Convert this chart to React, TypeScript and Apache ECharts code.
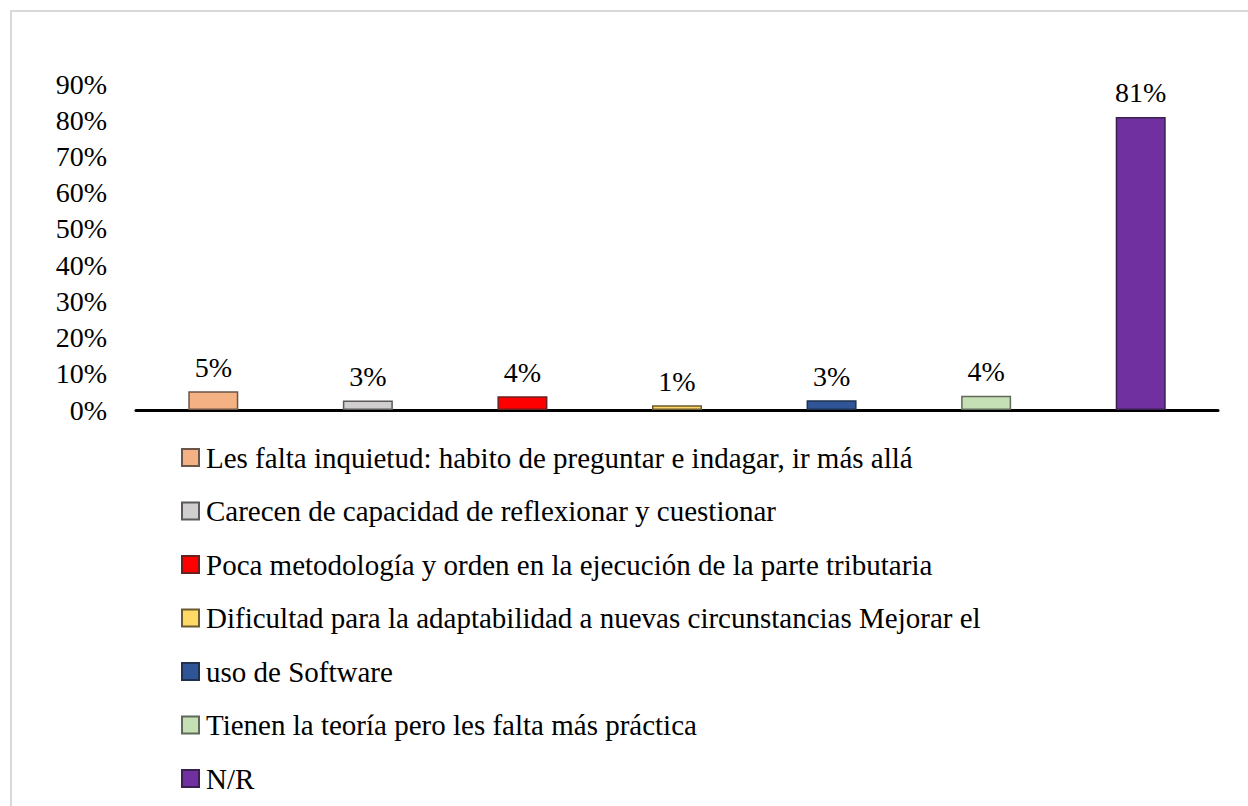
import React, { useEffect, useRef } from "react";
import * as echarts from "echarts";

const seriesNames = [
  "Les falta inquietud: habito de preguntar e indagar, ir más allá",
  "Carecen de capacidad de reflexionar y cuestionar",
  "Poca metodología y orden en la ejecución de la parte tributaria",
  "Dificultad para la adaptabilidad a nuevas circunstancias Mejorar el",
  "uso de Software",
  "Tienen la teoría pero les falta más práctica",
  "N/R",
];
const values = [5.2, 2.6, 3.8, 1.3, 2.7, 3.9, 80.9];
const fillColors = ["#F4B183", "#D0CECE", "#FF0000", "#FFD966", "#2F5597", "#C5E0B4", "#7030A0"];
const borderColors = ["#6b5548", "#5a5a5a", "#6b2020", "#6b5a30", "#1f3050", "#5f6a5a", "#3a2050"];
const yMin = 0;
const yMax = 90;
const yInterval = 10;

const FONT = "Liberation Serif";

export default function App() {
  const ref = useRef<HTMLDivElement>(null);
  useEffect(() => {
    if (!ref.current) return;
    const chart = echarts.init(ref.current, null, { renderer: "svg" });
    chart.setOption({
      animation: false,
      backgroundColor: "#ffffff",
      textStyle: { fontFamily: FONT },
      graphic: [
        {
          type: "rect",
          shape: { x: 11, y: 11, width: 1260, height: 820 },
          style: { fill: "none", stroke: "#d9d9d9", lineWidth: 2 },
          silent: true,
        },
      ],
      grid: { left: 136, right: 30, top: 84, bottom: 396 },
      legend: {
        orient: "vertical",
        left: 176,
        top: 438,
        itemWidth: 17,
        itemHeight: 17,
        itemGap: 24.5,
        icon: "rect",
        selectedMode: false,
        data: seriesNames,
        textStyle: {
          fontFamily: FONT,
          fontSize: 29,
          lineHeight: 29,
          color: "#000",
          padding: [0, 0, 0, 2],
        },
      },
      xAxis: {
        type: "category",
        data: seriesNames,
        axisLine: { show: true, lineStyle: { color: "#000", width: 3 } },
        axisTick: { show: false },
        axisLabel: { show: false },
        splitLine: { show: false },
      },
      yAxis: {
        type: "value",
        min: yMin,
        max: yMax,
        interval: yInterval,
        axisLine: { show: false },
        axisTick: { show: false },
        splitLine: { show: false },
        axisLabel: {
          formatter: "{value}%",
          fontFamily: FONT,
          fontSize: 28,
          color: "#000",
          margin: 29,
        },
      },
      series: seriesNames.map((name, i) => ({
        type: "bar",
        name,
        stack: "all",
        barWidth: 50,
        data: values.map((v, j) => (j === i ? v : "-")),
        itemStyle: {
          color: fillColors[i],
          borderColor: borderColors[i],
          borderWidth: 1.5,
        },
        label: {
          show: true,
          position: "top",
          distance: 10,
          fontFamily: FONT,
          fontSize: 28,
          color: "#000",
          formatter: (p: any) => Math.round(p.value) + "%",
        },
      })),
    });
    return () => chart.dispose();
  }, []);
  return (
    <div
      style={{ position: "fixed", left: 0, top: 0, width: 1248, height: 806, background: "#fff" }}
    >
      <div ref={ref} style={{ width: 1248, height: 806 }} />
    </div>
  );
}
